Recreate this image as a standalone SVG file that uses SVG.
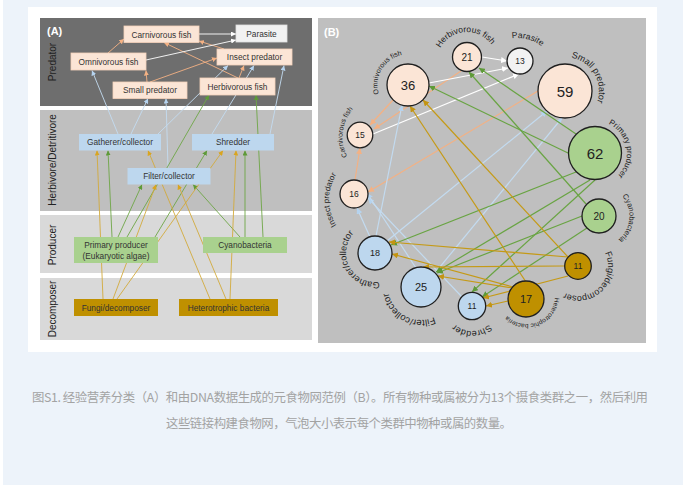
<svg xmlns="http://www.w3.org/2000/svg" width="683" height="493" viewBox="0 0 683 493">
<style>
.bt{font-family:"Liberation Sans",Arial,sans-serif;font-size:8.3px;fill:#333;text-anchor:middle}
.band{font-family:"Liberation Sans",Arial,sans-serif;font-size:10px;fill:#222;text-anchor:middle}
.num{font-family:"Liberation Sans",Arial,sans-serif;fill:#222;text-anchor:middle}
.lab{font-family:"Liberation Sans",Arial,sans-serif;fill:#222}
.circ{stroke:#1f1f1f;stroke-width:1.3}
.pe{fill:#fbe5d6}.pa{fill:#f2f2f2}.gr{fill:#a9d18e}.bl{fill:#bdd7ee}.go{fill:#bf9000}
.la line{stroke-width:0.9;fill:none}
.lb line{stroke-width:1.2;fill:none}
.or{stroke:#f4b183}.wh{stroke:#ffffff}.bu{stroke:#c3dbf0}.gn{stroke:#6ea646}.gd{stroke:#d2aa3c}
.gnb{stroke:#69a443}.gdb{stroke:#c59a16}
.cap{font-family:"Noto Sans CJK SC","Noto Sans CJK JP",sans-serif;font-size:12.4px;fill:#a3a3a3}
</style>
<defs>
<marker id="a-or" viewBox="0 0 10 10" refX="10" refY="5" markerWidth="5" markerHeight="5" markerUnits="userSpaceOnUse" orient="auto"><path d="M0,0L10,5L0,10z" fill="#f4b183"/></marker>
<marker id="a-wh" viewBox="0 0 10 10" refX="10" refY="5" markerWidth="5" markerHeight="5" markerUnits="userSpaceOnUse" orient="auto"><path d="M0,0L10,5L0,10z" fill="#ffffff"/></marker>
<marker id="a-bu" viewBox="0 0 10 10" refX="10" refY="5" markerWidth="5" markerHeight="5" markerUnits="userSpaceOnUse" orient="auto"><path d="M0,0L10,5L0,10z" fill="#b5d3ef"/></marker>
<marker id="a-gn" viewBox="0 0 10 10" refX="10" refY="5" markerWidth="5" markerHeight="5" markerUnits="userSpaceOnUse" orient="auto"><path d="M0,0L10,5L0,10z" fill="#5e9a38"/></marker>
<marker id="a-gd" viewBox="0 0 10 10" refX="10" refY="5" markerWidth="5" markerHeight="5" markerUnits="userSpaceOnUse" orient="auto"><path d="M0,0L10,5L0,10z" fill="#d9a520"/></marker>
<marker id="b-or" viewBox="0 0 10 10" refX="10" refY="5" markerWidth="6" markerHeight="6" markerUnits="userSpaceOnUse" orient="auto"><path d="M0,0L10,5L0,10z" fill="#f4b183"/></marker>
<marker id="b-wh" viewBox="0 0 10 10" refX="10" refY="5" markerWidth="6" markerHeight="6" markerUnits="userSpaceOnUse" orient="auto"><path d="M0,0L10,5L0,10z" fill="#ffffff"/></marker>
<marker id="b-bu" viewBox="0 0 10 10" refX="10" refY="5" markerWidth="6" markerHeight="6" markerUnits="userSpaceOnUse" orient="auto"><path d="M0,0L10,5L0,10z" fill="#b5d3ef"/></marker>
<marker id="b-gn" viewBox="0 0 10 10" refX="10" refY="5" markerWidth="6" markerHeight="6" markerUnits="userSpaceOnUse" orient="auto"><path d="M0,0L10,5L0,10z" fill="#5e9a38"/></marker>
<marker id="b-gd" viewBox="0 0 10 10" refX="10" refY="5" markerWidth="6" markerHeight="6" markerUnits="userSpaceOnUse" orient="auto"><path d="M0,0L10,5L0,10z" fill="#c39412"/></marker>
<path id="p-herb" d="M453.85,88.96 A30,30 0 1 1 483.78,86.87"/>
<path id="p-para" d="M491.84,101.16 A37,37 0 1 1 527.58,110.74"/>
<path id="p-omni" d="M422.79,111.68 A30.5,30.5 0 1 1 438.49,85.53"/>
<path id="p-smal" d="M531,91 A34,34 0 1 1 548,120.44"/>
<path id="p-prim" d="M564.93,142.06 A32,32 0 1 1 570.49,173.57"/>
<path id="p-cyan" d="M574.02,198.51 A30.5,30.5 0 1 1 571.36,228.89"/>
<path id="p-fung" d="M570.24,237.02 A30,30 0 1 1 549.02,258.24"/>
<path id="p-hete" d="M531.38,268.34 A28,28 0 1 1 505.24,278.38"/>
<path id="p-shre" d="M484.5,284.35 A25,25 0 1 1 459.5,284.35"/>
<path id="p-filt" d="M448.98,269.51 A33,33 0 1 1 419.85,254.02"/>
<path id="p-gath" d="M403.98,254.01 A29,29 0 1 1 390.37,228.41"/>
<path id="p-inse" d="M416.7,223.5 A47,47 0 1 1 416.7,176.5"/>
<path id="p-carn" d="M418.94,162.58 A42.5,42.5 0 1 1 424.12,120.4"/>
</defs>

<rect x="0" y="0" width="683" height="493" fill="#ffffff"/>
<rect x="3" y="0" width="680" height="485" fill="#edf3fa"/>
<rect x="28" y="7" width="629" height="345" fill="#ffffff"/>

<!-- Panel A bands -->
<g id="panel-a-bands">
<rect x="40" y="18" width="272" height="88" fill="#6e6e6e"/>
<rect x="40" y="110" width="272" height="101" fill="#bfbfbf"/>
<rect x="40" y="215" width="272" height="58" fill="#d9d9d9"/>
<rect x="40" y="278" width="272" height="62" fill="#d9d9d9"/>
<text x="47" y="35" font-family="Liberation Sans, Arial, sans-serif" font-size="11" font-weight="bold" fill="#ffffff">(A)</text>
<text class="band" transform="translate(56,62) rotate(-90)">Predator</text>
<text class="band" transform="translate(56,160) rotate(-90)">Herbivore/Detritivore</text>
<text class="band" transform="translate(56,245) rotate(-90)">Producer</text>
<text class="band" transform="translate(56,309) rotate(-90)">Decomposer</text>
</g>

<!-- Panel B background -->
<rect x="318" y="18" width="328" height="325" fill="#bfbfbf"/>
<text x="324" y="36" font-family="Liberation Sans, Arial, sans-serif" font-size="11" font-weight="bold" fill="#ffffff">(B)</text>

<!-- Panel A connectors -->
<g id="connectors-a" class="la">
<line class="or" x1="108" y1="53" x2="124" y2="39" marker-end="url(#a-or)"/>
<line class="or" x1="147" y1="82" x2="146" y2="70.5" marker-end="url(#a-or)"/>
<line class="or" x1="150" y1="82" x2="217" y2="58" marker-end="url(#a-or)"/>
<line class="or" x1="238" y1="78" x2="164" y2="42.5" marker-end="url(#a-or)"/>
<line class="or" x1="224" y1="49" x2="199" y2="41" marker-end="url(#a-or)"/>
<line class="or" x1="239" y1="78" x2="244" y2="65.5" marker-end="url(#a-or)"/>
<line class="wh" x1="199" y1="34" x2="236" y2="34" marker-end="url(#a-wh)"/>
<line class="wh" x1="146" y1="60" x2="236" y2="40" marker-end="url(#a-wh)"/>
<line class="bu" x1="118" y1="134" x2="92" y2="70.5" marker-end="url(#a-bu)"/>
<line class="bu" x1="131" y1="134" x2="148" y2="98.5" marker-end="url(#a-bu)"/>
<line class="bu" x1="168" y1="168" x2="166" y2="98.5" marker-end="url(#a-bu)"/>
<line class="bu" x1="158" y1="134" x2="228" y2="65.5" marker-end="url(#a-bu)"/>
<line class="bu" x1="212" y1="134" x2="254" y2="65.5" marker-end="url(#a-bu)"/>
<line class="bu" x1="270" y1="134" x2="284" y2="65.5" marker-end="url(#a-bu)"/>
<line class="gn" x1="112" y1="237" x2="108" y2="150.5" marker-end="url(#a-gn)"/>
<line class="gn" x1="118" y1="237" x2="142" y2="184.5" marker-end="url(#a-gn)"/>
<line class="gn" x1="155" y1="237" x2="207" y2="150.5" marker-end="url(#a-gn)"/>
<line class="gn" x1="127" y1="237" x2="209" y2="95" marker-end="url(#a-gn)"/>
<line class="gn" x1="245" y1="237" x2="245" y2="150.5" marker-end="url(#a-gn)"/>
<line class="gn" x1="240" y1="237" x2="193" y2="184.5" marker-end="url(#a-gn)"/>
<line class="gn" x1="263" y1="237" x2="256" y2="95" marker-end="url(#a-gn)"/>
<line class="gd" x1="103" y1="299" x2="97" y2="150.5" marker-end="url(#a-gd)"/>
<line class="gd" x1="113" y1="299" x2="156" y2="184.5" marker-end="url(#a-gd)"/>
<line class="gd" x1="117" y1="299" x2="223" y2="150.5" marker-end="url(#a-gd)"/>
<line class="gd" x1="210" y1="299" x2="148" y2="150.5" marker-end="url(#a-gd)"/>
<line class="gd" x1="226" y1="299" x2="178" y2="184.5" marker-end="url(#a-gd)"/>
<line class="gd" x1="230" y1="299" x2="236" y2="150.5" marker-end="url(#a-gd)"/>
</g>

<!-- Panel A nodes -->
<g id="a-carnivorous-fish"><rect x="124" y="26" width="75" height="16.5" fill="#fbe5d6" stroke="#f6d3bb" stroke-width="0.8"/><text class="bt" x="161.5" y="37.5">Carnivorous fish</text></g>
<g id="a-parasite"><rect x="236" y="25" width="51" height="17" fill="#f2f2f2" stroke="#e2e2e2" stroke-width="0.8"/><text class="bt" x="261.5" y="36.5">Parasite</text></g>
<g id="a-omnivorous-fish"><rect x="71" y="53" width="75" height="17" fill="#fbe5d6" stroke="#f6d3bb" stroke-width="0.8"/><text class="bt" x="108.5" y="64.5">Omnivorous fish</text></g>
<g id="a-insect-predator"><rect x="217" y="49" width="75" height="16" fill="#fbe5d6" stroke="#f6d3bb" stroke-width="0.8"/><text class="bt" x="254.5" y="60">Insect predator</text></g>
<g id="a-small-predator"><rect x="113" y="82" width="74" height="16.5" fill="#fbe5d6" stroke="#f6d3bb" stroke-width="0.8"/><text class="bt" x="150" y="93">Small predator</text></g>
<g id="a-herbivorous-fish"><rect x="200" y="78" width="75" height="17" fill="#fbe5d6" stroke="#f6d3bb" stroke-width="0.8"/><text class="bt" x="237.5" y="89.5">Herbivorous fish</text></g>
<g id="a-gatherer"><rect x="79" y="134" width="82" height="16.5" fill="#bdd7ee"/><text class="bt" x="120" y="145">Gatherer/collector</text></g>
<g id="a-shredder"><rect x="192" y="134" width="82" height="16.5" fill="#bdd7ee"/><text class="bt" x="233" y="145">Shredder</text></g>
<g id="a-filter"><rect x="127.5" y="168" width="83" height="16.5" fill="#bdd7ee"/><text class="bt" x="169" y="179">Filter/collector</text></g>
<g id="a-primary-producer"><rect x="74" y="237" width="84" height="26" fill="#a9d18e"/><text class="bt" x="116" y="248">Primary producer</text><text class="bt" x="116" y="258.5">(Eukaryotic algae)</text></g>
<g id="a-cyanobacteria"><rect x="203" y="237" width="84" height="16" fill="#a9d18e"/><text class="bt" x="245" y="248">Cyanobacteria</text></g>
<g id="a-fungi"><rect x="74" y="299" width="84" height="17" fill="#bf9000"/><text class="bt" x="116" y="310.5">Fungi/decomposer</text></g>
<g id="a-heterotrophic"><rect x="179" y="299" width="99" height="17" fill="#bf9000"/><text class="bt" x="228.5" y="310.5">Heterotrophic bacteria</text></g>

<!-- Panel B connectors -->
<g id="connectors-b" class="lb">
<line class="or" x1="461" y1="71" x2="374" y2="129" marker-end="url(#b-or)"/>
<line class="or" x1="393" y1="100" x2="370" y2="125" marker-end="url(#b-or)"/>
<line class="or" x1="355" y1="180" x2="360" y2="148" marker-end="url(#b-or)"/>
<line class="or" x1="538" y1="91" x2="368" y2="192" marker-end="url(#b-or)"/>
<line class="wh" x1="482" y1="57" x2="507" y2="61" marker-end="url(#b-wh)"/>
<line class="wh" x1="429" y1="83" x2="508" y2="68" marker-end="url(#b-wh)"/>
<line class="wh" x1="373" y1="134" x2="519" y2="74" marker-end="url(#b-wh)"/>
<line class="bu" x1="370" y1="237" x2="357" y2="208" marker-end="url(#b-bu)"/>
<line class="bu" x1="462" y1="297" x2="368" y2="198" marker-end="url(#b-bu)"/>
<line class="bu" x1="416" y1="268" x2="367" y2="193" marker-end="url(#b-bu)"/>
<line class="bu" x1="376" y1="236" x2="402" y2="105" marker-end="url(#b-bu)"/>
<line class="bu" x1="387" y1="241" x2="547" y2="111" marker-end="url(#b-bu)"/>
<line class="bu" x1="435" y1="273" x2="562" y2="118" marker-end="url(#b-bu)"/>
<line class="gnb" x1="568" y1="153" x2="429" y2="86" marker-end="url(#b-gn)"/>
<line class="gnb" x1="576" y1="134" x2="479" y2="68" marker-end="url(#b-gn)"/>
<line class="gnb" x1="586" y1="204" x2="469" y2="72" marker-end="url(#b-gn)"/>
<line class="gnb" x1="576" y1="172" x2="391" y2="245" marker-end="url(#b-gn)"/>
<line class="gnb" x1="590" y1="180" x2="436" y2="272" marker-end="url(#b-gn)"/>
<line class="gnb" x1="582" y1="216" x2="437" y2="273" marker-end="url(#b-gn)"/>
<line class="gnb" x1="595" y1="180" x2="472" y2="292" marker-end="url(#b-gn)"/>
<line class="gnb" x1="587" y1="228" x2="482" y2="297" marker-end="url(#b-gn)"/>
<line class="gdb" x1="568" y1="257" x2="389" y2="242" marker-end="url(#b-gd)"/>
<line class="gdb" x1="513" y1="287" x2="392" y2="254" marker-end="url(#b-gd)"/>
<line class="gdb" x1="564" y1="266" x2="423" y2="267" marker-end="url(#b-gd)"/>
<line class="gdb" x1="513" y1="288" x2="438" y2="276" marker-end="url(#b-gd)"/>
<line class="gdb" x1="568" y1="276" x2="483" y2="298" marker-end="url(#b-gd)"/>
<line class="gdb" x1="508" y1="301" x2="486" y2="306" marker-end="url(#b-gd)"/>
<line class="gdb" x1="568" y1="257" x2="423" y2="100" marker-end="url(#b-gd)"/>
<line class="gdb" x1="526" y1="282" x2="410" y2="106" marker-end="url(#b-gd)"/>
</g>

<!-- Panel B nodes -->
<g id="b-herbivorous-fish"><circle class="circ pe" cx="467" cy="57" r="14.5"/><text class="num" x="467" y="60.5" font-size="10">21</text><text class="lab" font-size="8.5" text-anchor="middle"><textPath href="#p-herb" startOffset="50%">Herbivorous fish</textPath></text></g>
<g id="b-parasite"><circle class="circ pa" cx="520" cy="61" r="13"/><text class="num" x="520" y="64" font-size="8.5">13</text><text class="lab" font-size="8.5" text-anchor="middle"><textPath href="#p-para" startOffset="50%">Parasite</textPath></text></g>
<g id="b-omnivorous-fish"><circle class="circ pe" cx="408" cy="85" r="21"/><text class="num" x="408" y="89.5" font-size="13">36</text><text class="lab" font-size="7" text-anchor="middle"><textPath href="#p-omni" startOffset="50%">Omnivorous fish</textPath></text></g>
<g id="b-small-predator"><circle class="circ pe" cx="565" cy="91" r="27"/><text class="num" x="565" y="96.5" font-size="15">59</text><text class="lab" font-size="9" text-anchor="middle"><textPath href="#p-smal" startOffset="50%">Small predator</textPath></text></g>
<g id="b-primary-producer"><circle class="circ gr" cx="595" cy="153" r="26.5"/><text class="num" x="595" y="158.5" font-size="15">62</text><text class="lab" font-size="8" text-anchor="middle"><textPath href="#p-prim" startOffset="50%">Primary producer</textPath></text></g>
<g id="b-cyanobacteria"><circle class="circ gr" cx="599" cy="216" r="17"/><text class="num" x="599" y="219.5" font-size="10">20</text><text class="lab" font-size="7.5" text-anchor="middle"><textPath href="#p-cyan" startOffset="50%">Cyanobacteria</textPath></text></g>
<g id="b-fungi"><circle class="circ go" cx="578" cy="266" r="13.3"/><text class="num" x="578" y="269" font-size="8.5">11</text><text class="lab" font-size="9" text-anchor="middle"><textPath href="#p-fung" startOffset="50%">Fungi/decomposer</textPath></text></g>
<g id="b-heterotrophic"><circle class="circ go" cx="526" cy="299" r="18"/><text class="num" x="526" y="303" font-size="11">17</text><text class="lab" font-size="6.5" text-anchor="middle"><textPath href="#p-hete" startOffset="50%">Heterotrophic bacteria</textPath></text></g>
<g id="b-shredder"><circle class="circ bl" cx="472" cy="306" r="13.7"/><text class="num" x="472" y="309" font-size="8.5">11</text><text class="lab" font-size="9" text-anchor="middle"><textPath href="#p-shre" startOffset="50%">Shredder</textPath></text></g>
<g id="b-filter"><circle class="circ bl" cx="421" cy="287" r="20"/><text class="num" x="421" y="291" font-size="11">25</text><text class="lab" font-size="9.5" text-anchor="middle"><textPath href="#p-filt" startOffset="50%">Filter/collector</textPath></text></g>
<g id="b-gatherer"><circle class="circ bl" cx="375" cy="253" r="17"/><text class="num" x="375" y="256" font-size="9">18</text><text class="lab" font-size="9" text-anchor="middle"><textPath href="#p-gath" startOffset="50%">Gatherer/collector</textPath></text></g>
<g id="b-insect-predator"><circle class="circ pe" cx="354" cy="194" r="14"/><text class="num" x="354" y="197" font-size="8.5">16</text><text class="lab" font-size="8" text-anchor="middle"><textPath href="#p-inse" startOffset="50%">Insect predator</textPath></text></g>
<g id="b-carnivorous-fish"><circle class="circ pe" cx="360" cy="135" r="12.8"/><text class="num" x="360" y="138" font-size="8.5">15</text><text class="lab" font-size="7" text-anchor="middle"><textPath href="#p-carn" startOffset="50%">Carnivorous fish</textPath></text></g>

<!-- Caption -->
<text class="cap" x="32" y="402" textLength="616" lengthAdjust="spacing">图S1. 经验营养分类（A）和由DNA数据生成的元食物网范例（B）。所有物种或属被分为13个摄食类群之一，然后利用</text>
<text class="cap" x="166" y="428" textLength="346" lengthAdjust="spacing">这些链接构建食物网，气泡大小表示每个类群中物种或属的数量。</text>
</svg>
